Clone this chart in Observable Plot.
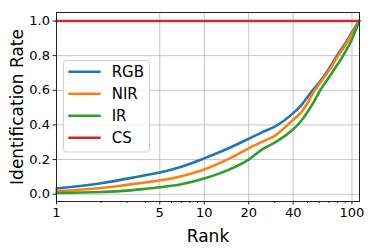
<!DOCTYPE html>
<html>
<head>
<meta charset="utf-8">
<script src="https://cdn.jsdelivr.net/npm/d3@7"></script>
<script src="https://cdn.jsdelivr.net/npm/@observablehq/plot@0.6"></script>
<style>
  html, body { margin: 0; padding: 0; background: #fff; }
  #chart { width: 374px; height: 249px; }
</style>
</head>
<body>
<div id="chart"></div>
<script>
const ranks = [1, 2, 3, 4, 5, 7, 10, 15, 20, 25, 30, 40, 45, 50, 55, 60, 70, 80, 90, 100, 112];
const rgb = [0.033, 0.063, 0.090, 0.110, 0.125, 0.158, 0.207, 0.270, 0.320, 0.360, 0.390, 0.468, 0.510, 0.560, 0.607, 0.645, 0.725, 0.805, 0.870, 0.935, 1.0];
const nir = [0.017, 0.036, 0.054, 0.068, 0.079, 0.104, 0.143, 0.208, 0.265, 0.305, 0.337, 0.430, 0.470, 0.525, 0.590, 0.635, 0.715, 0.795, 0.860, 0.925, 1.0];
const ir  = [0.007, 0.013, 0.021, 0.031, 0.040, 0.058, 0.091, 0.145, 0.200, 0.262, 0.298, 0.375, 0.420, 0.475, 0.530, 0.590, 0.675, 0.750, 0.820, 0.895, 1.0];
const cs  = ranks.map(() => 1.0);

const seriesNames = ["RGB", "NIR", "IR", "CS"];
const seriesColors = ["#1f77b4", "#ff7f0e", "#2ca02c", "#d62728"];
const seriesValues = [rgb, nir, ir, cs];

const xMajor = [1, 5, 10, 20, 40, 100];
const xMinor = [2, 3, 4, 6, 7, 8, 9, 30, 50, 60, 70, 80, 90];
const yTicks = [0, 0.2, 0.4, 0.6, 0.8, 1.0];

const rows = [];
seriesNames.forEach((s, i) => {
  ranks.forEach((r, j) => rows.push({series: s, rank: r, value: seriesValues[i][j]}));
});

const font = "DejaVu Sans";
const chart = Plot.plot({
  width: 374,
  height: 249,
  marginLeft: 56,
  marginRight: 15,
  marginTop: 12,
  marginBottom: 48,
  style: {fontFamily: font, fontSize: "13px", color: "#000", background: "#fff"},
  x: {type: "log", domain: [1, 112.5]},
  y: {domain: [-0.042, 1.049]},
  color: {domain: seriesNames, range: seriesColors},
  marks: [
    Plot.gridX(xMajor, {stroke: "#b0b0b0", strokeOpacity: 0.8, strokeWidth: 0.9}),
    Plot.gridY(yTicks, {stroke: "#b0b0b0", strokeOpacity: 0.8, strokeWidth: 0.9}),
    Plot.line(rows, {x: "rank", y: "value", z: "series", stroke: "series", strokeWidth: 2.6, curve: "monotone-x"}),
    Plot.frame({stroke: "#222", strokeWidth: 1}),
    Plot.axisX({ticks: xMajor, tickFormat: d => String(d), tickSize: 3.5, tickPadding: 3, fontSize: 13,
      label: "Rank", labelAnchor: "center", labelArrow: "none", labelOffset: 40, stroke: "#222"}),
    Plot.axisX({ticks: xMinor, tickFormat: () => "", tickSize: 2, label: null, stroke: "#222"}),
    Plot.axisY({ticks: yTicks, tickFormat: d3.format(".1f"), tickSize: 3.5, tickPadding: 3, fontSize: 13,
      label: "Identification Rate", labelAnchor: "center", labelArrow: "none", labelOffset: 46, stroke: "#222"})
  ]
});
document.getElementById("chart").appendChild(chart);

// legend (layout only)
const svg = d3.select(chart);
svg.selectAll("[aria-label='x-axis label'] text, [aria-label='y-axis label'] text").style("font-size", "17px");
const lg = svg.append("g").attr("transform", "translate(63.5,60.5)");
lg.append("rect").attr("width", 86).attr("height", 91.5).attr("rx", 3)
  .attr("fill", "#fff").attr("fill-opacity", 0.8).attr("stroke", "#d0d0d0").attr("stroke-width", 1);
seriesNames.forEach((s, i) => {
  const cy = 11.2 + i * 22;
  lg.append("line").attr("x1", 4.8).attr("x2", 37.2).attr("y1", cy).attr("y2", cy)
    .attr("stroke", seriesColors[i]).attr("stroke-width", 2.6);
  lg.append("text").attr("x", 48.2).attr("y", cy).attr("dy", "0.36em")
    .attr("text-anchor", "start")
    .attr("font-family", font).attr("font-size", 15).attr("fill", "#000").text(s);
});
</script>
</body>
</html>
